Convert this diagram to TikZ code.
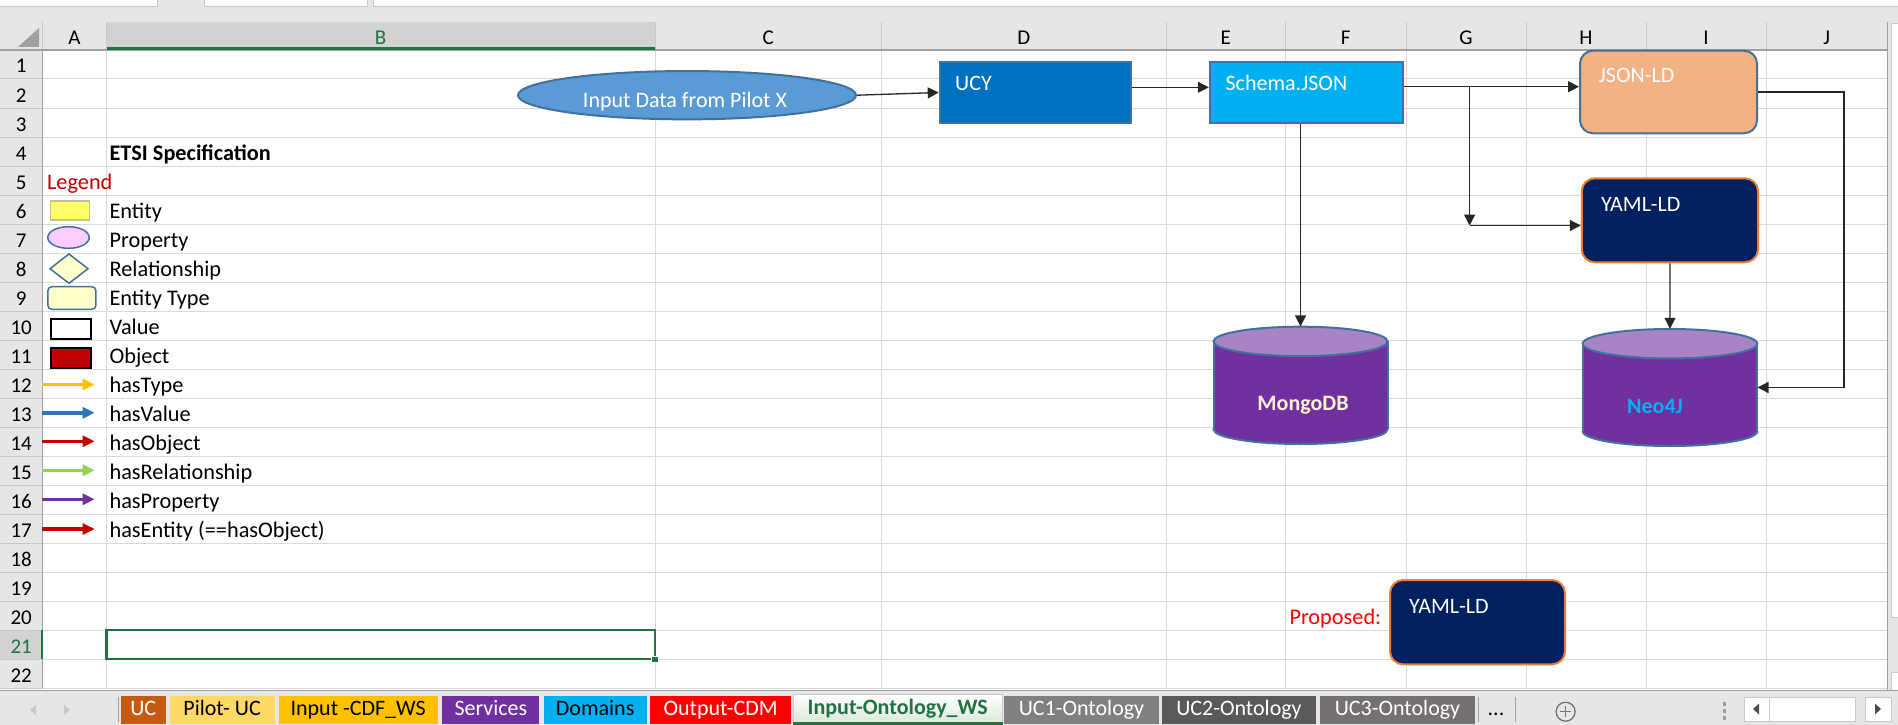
\documentclass[tikz,border=0pt]{standalone}
\usepackage{fontspec}
\setmainfont{Carlito}
\usetikzlibrary{arrows.meta,shapes.geometric,calc}
\definecolor{hdr}{HTML}{E6E6E6}
\definecolor{selhdr}{HTML}{D2D2D2}
\definecolor{gridc}{HTML}{D9D9D9}
\definecolor{hsep}{HTML}{C8C8C8}
\definecolor{hline}{HTML}{A0A0A0}
\definecolor{xlgreen}{HTML}{217346}
\definecolor{bordblue}{HTML}{41719C}
\definecolor{ellblue}{HTML}{5B9BD5}
\definecolor{ucyblue}{HTML}{0070C0}
\definecolor{schblue}{HTML}{00B0F0}
\definecolor{jsonor}{HTML}{F4B183}
\definecolor{navy}{HTML}{002060}
\definecolor{orb}{HTML}{ED7D31}
\definecolor{cylbody}{HTML}{7030A0}
\definecolor{cyltop}{HTML}{A884C4}
\definecolor{mongotxt}{HTML}{FFF2CC}
\definecolor{darkred}{HTML}{C00000}
\definecolor{entyel}{HTML}{FFFF66}
\definecolor{entbord}{HTML}{BFBFA0}
\definecolor{propink}{HTML}{FFCCFF}
\definecolor{palecream}{HTML}{FFFFCC}
\definecolor{typeor}{HTML}{FFC000}
\definecolor{valblue}{HTML}{2E75B6}
\definecolor{relgreen}{HTML}{92D050}
\definecolor{tabUC}{HTML}{C55A11}
\definecolor{tabPilot}{HTML}{FFD966}
\definecolor{tabUCone}{HTML}{808080}
\definecolor{tabUCtwo}{HTML}{595959}
\definecolor{tabUCthree}{HTML}{767171}
\definecolor{acttab}{HTML}{D9E7D6}
\newcommand\drawdbcyl[5]{%
  \filldraw[fill=cylbody, draw=bordblue, line width=2pt] (#1,#3) ellipse [x radius=#4, y radius=#5];
  \fill[cylbody] ({#1-#4},#2) rectangle ({#1+#4},#3);
  \draw[bordblue, line width=2pt] ({#1-#4},#2) -- ({#1-#4},#3) ({#1+#4},#2) -- ({#1+#4},#3);
  \filldraw[fill=cyltop, draw=bordblue, line width=2pt] (#1,#2) ellipse [x radius=#4, y radius=#5];
}
\begin{document}
\begin{tikzpicture}[x=1pt,y=-1pt,
  celltext/.style={font=\fontsize{22.3}{26}\selectfont, anchor=base west, inner sep=0},
  hdrtext/.style={font=\fontsize{21}{25}\selectfont, anchor=base, inner sep=0},
  stext/.style={font=\fontsize{22}{26}\selectfont, text=white, anchor=base west, inner sep=0},
  gridl/.style={draw=gridc, line width=1pt},
  hsepl/.style={draw=hsep, line width=1pt},
  conn/.style={draw=black!85, line width=1.3pt, -{Triangle[length=11pt,width=11pt]}},
  legarrow/.style={line width=3.6pt, -{Triangle[length=12pt,width=11pt]}},
  tab/.style={inner sep=0, minimum height=27.5pt, text height=14.5pt, text depth=4pt,
              font=\fontsize{22}{26}\selectfont},
  boxn/.style={inner sep=0, line width=2pt}
]
\useasboundingbox (0,0) rectangle (1898,725);
\fill[white] (0,0) rectangle (1898,725);
% ---------- top band and column header ----------
\fill[hdr] (0,0) rectangle (1898,50);
\filldraw[fill=white, draw=hsep] (-2,-2) rectangle (157,6);
\filldraw[fill=white, draw=hsep] (204.5,-2) rectangle (367,6);
\filldraw[fill=white, draw=hsep] (373,-2) rectangle (1900,6);
\fill[selhdr] (106.5,22) rectangle (655,50);
\foreach \x in {42.4,106.5,655,881.5,1166,1285.7,1406,1526,1646,1766.5,1887}
  \draw[hsepl] (\x,22) -- (\x,50);
\fill[hsep!80!black] (18,47) -- (39,47) -- (39,28) -- cycle;
\foreach \x/\l in {74.5/A,768.2/C,1023.7/D,1225.8/E,1345.8/F,1466/G,1586/H,1706/I,1826.7/J}
  \node[hdrtext] at (\x,45) {\l};
\node[hdrtext, text=xlgreen] at (380.7,45) {B};
% ---------- row header ----------
\fill[hdr] (0,50) rectangle (42.4,688);
\fill[selhdr] (0,630) rectangle (42.4,659);
% ---------- grid ----------
\foreach \x in {106.5,655,881.5,1166,1285.7,1406,1526,1646,1766.5,1887}
  \draw[gridl] (\x,50) -- (\x,688);
\foreach \n in {1,...,22} {
  \draw[gridl] (42.4,{50+29*\n}) -- (1887,{50+29*\n});
  \draw[hsepl] (0,{50+29*\n}) -- (42.4,{50+29*\n});
}
\foreach \n in {1,...,20,22}
  \node[hdrtext] at (21.2,{50+29*\n-6}) {\n};
\node[hdrtext, text=xlgreen] at (21.2,653) {21};
\draw[hline, line width=1.2pt] (0,50) -- (1887,50);
\draw[hline, line width=1.2pt] (42.4,50) -- (42.4,688);
\draw[xlgreen, line width=3pt] (106.5,48.5) -- (655,48.5);
\draw[xlgreen, line width=2pt] (42.4,630) -- (42.4,659);
% selected cell B21
\draw[xlgreen, line width=2.5pt] (106.5,630) rectangle (655,659);
\filldraw[fill=xlgreen, draw=white, line width=0.8pt] (651.5,656) rectangle (658,662);
% right scroll strip
\fill[hdr] (1887,22) rectangle (1898,690);
\draw[hline] (1887.5,22) -- (1887.5,690);
\filldraw[fill=white, draw=hsep] (1891.5,23) rectangle (1899,617);
\filldraw[fill=white, draw=hsep] (1891.5,672) rectangle (1899,690);
% ---------- legend ----------
\node[celltext, font=\bfseries\fontsize{22.3}{26}\selectfont] at (109.4,160) {ETSI Specification};
\node[celltext, text=darkred] at (46.9,189) {Legend};
\node[celltext] (tent) at (109.4,218) {Entity};
\node[celltext] (tprop) at (109.4,247) {Property};
\node[celltext] (trel) at (109.4,276) {Relationship};
\node[celltext] (ttype) at (109.4,305) {Entity Type};
\node[celltext] (tval) at (109.4,334) {Value};
\node[celltext] (tobj) at (109.4,363) {Object};
\node[celltext] (thtype) at (109.4,392) {hasType};
\node[celltext] (thval) at (109.4,421) {hasValue};
\node[celltext] (thobj) at (109.4,450) {hasObject};
\node[celltext] (threl) at (109.4,479) {hasRelationship};
\node[celltext] (thprop) at (109.4,508) {hasProperty};
\node[celltext] (thent) at (109.4,537) {hasEntity (==hasObject)};
\node[boxn, draw=entbord, line width=1.5pt, fill=entyel, minimum width=39pt, minimum height=19.3pt] (lent) at (69.9,210.4) {};
\node[boxn, ellipse, draw=bordblue, line width=1.5pt, fill=propink, minimum width=41.5pt, minimum height=21.6pt] (lprop) at (68.5,237.5) {};
\filldraw[fill=palecream, draw=bordblue, line width=1.5pt] (50,268.7) -- (69,254) -- (88,268.7) -- (69,283.3) -- cycle;
\node[boxn, draw=bordblue, line width=1.5pt, fill=palecream, rounded corners=4pt, minimum width=48pt, minimum height=22.6pt] (ltype) at (71.9,298) {};
\node[boxn, draw=black, fill=white, minimum width=39.3pt, minimum height=20pt] (lval) at (71,329.3) {};
\node[boxn, draw=black, fill=darkred, minimum width=39.3pt, minimum height=20pt] (lobj) at (71,358.3) {};
\coordinate (a1) at (42.4,384.5); \coordinate (b1) at (94.6,384.5);
\coordinate (a2) at (42.4,412.8); \coordinate (b2) at (94.6,412.8);
\coordinate (a3) at (42.4,441.3); \coordinate (b3) at (94.6,441.3);
\coordinate (a4) at (42.4,470.3); \coordinate (b4) at (94.6,470.3);
\coordinate (a5) at (42.4,499.3); \coordinate (b5) at (94.6,499.3);
\coordinate (a6) at (42.4,529);   \coordinate (b6) at (94.6,529);
\draw[legarrow, typeor] (a1) -- (b1);
\draw[legarrow, valblue] (a2) -- (b2);
\draw[legarrow, darkred] (a3) -- (b3);
\draw[legarrow, relgreen] (a4) -- (b4);
\draw[legarrow, cylbody] (a5) -- (b5);
\draw[legarrow, darkred] (a6) -- (b6);
% ---------- diagram ----------
\node[boxn, ellipse, fill=ellblue, draw=bordblue, minimum width=338pt, minimum height=48.3pt] (inp) at (687,95.2) {};
\node[stext, anchor=base] at (685,107.3) {Input Data from Pilot X};
\node[boxn, fill=ucyblue, draw=bordblue, minimum width=191.6pt, minimum height=61.6pt] (ucy) at (1035.5,92.5) {};
\node[stext] at (955,90) {UCY};
\node[boxn, fill=schblue, draw=bordblue, minimum width=193.2pt, minimum height=61.6pt] (schema) at (1306.4,92.5) {};
\node[stext] at (1225.4,90) {Schema.JSON};
\node[boxn, fill=jsonor, draw=bordblue, rounded corners=13pt, minimum width=177pt, minimum height=82.6pt] (jsonld) at (1668.5,92) {};
\node[stext] at (1598.7,82) {JSON-LD};
\node[boxn, fill=navy, draw=orb, rounded corners=13pt, minimum width=176.3pt, minimum height=84pt] (yaml) at (1669.9,220.3) {};
\node[stext] at (1600.9,211) {YAML-LD};
\drawdbcyl{1300.5}{341.4}{429.3}{87}{14.7}
\node[inner sep=0, minimum width=174pt, minimum height=117.3pt] (mongo) at (1300.5,385.3) {};
\node[stext, anchor=base, text=mongotxt, font=\bfseries\fontsize{22}{26}\selectfont] at (1303,410.7) {MongoDB};
\drawdbcyl{1670}{343.7}{431.3}{87.3}{14.7}
\node[inner sep=0, minimum width=174.6pt, minimum height=117pt] (neo) at (1670,387.5) {};
\node[stext, anchor=base, text=schblue, font=\bfseries\fontsize{22}{26}\selectfont] at (1655,413.3) {Neo4J};
\node[celltext, text=red] (proplab) at (1289.3,624) {Proposed:};
\node[boxn, fill=navy, draw=orb, rounded corners=13pt, minimum width=175pt, minimum height=84.3pt] (pyaml) at (1477.5,622.2) {};
\node[stext] at (1409,613.3) {YAML-LD};
% connectors
\draw[conn] (inp.east) -- (ucy.west);
\draw[conn] ([yshift=5.2pt]ucy.east) -- ([yshift=5.2pt]ucy.east -| schema.west);
\draw[conn] ([yshift=5.8pt]schema.east) -- ([yshift=5.8pt]schema.east -| jsonld.west);
\coordinate (br) at (1469.6,86.7);
\coordinate (brc) at (1469.6,225.5);
\draw[conn] (br) -- (brc);
\draw[conn] (brc) -- (brc -| yaml.west);
\draw[conn] (mongo.north |- schema.south) -- (mongo.north);
\draw[conn] (yaml.south) -- (neo.north);
\draw[conn] (jsonld.east) -- ++(86,0) |- (neo.east);
% ---------- sheet tab bar ----------
\fill[hdr] (0,690) rectangle (1898,725);
\draw[hsep!80!black] (0,690.5) -- (1898,690.5);
\fill[hsep] (36,705) -- (30,710) -- (36,715) -- cycle;
\fill[hsep] (64,705) -- (70,710) -- (64,715) -- cycle;
\draw[hline] (118,697) -- (118,722);
\node[tab, fill=tabUC, text=white, minimum width=44.5pt] (t1) at (143.25,709.75) {UC};
\node[tab, fill=tabPilot, minimum width=104.8pt] (t2) at (222.1,709.75) {Pilot- UC};
\node[tab, fill=typeor, minimum width=158.8pt] (t3) at (358.2,709.75) {Input -CDF\_WS};
\node[tab, fill=cylbody, text=white, minimum width=97pt] (t4) at (490.9,709.75) {Services};
\node[tab, fill=schblue, minimum width=103.1pt] (t5) at (595.15,709.75) {Domains};
\node[tab, fill=red, text=white, minimum width=140.7pt] (t6) at (720.65,709.75) {Output-CDM};
\node[tab, top color=white, bottom color=acttab, draw=hsep, text=xlgreen, font=\bfseries\fontsize{22}{26}\selectfont, minimum width=209.5pt, minimum height=29pt] (t7) at (897.75,709) {Input-Ontology\_WS};
\draw[xlgreen, line width=2.5pt] (t7.south west) -- (t7.south east);
\node[tab, fill=tabUCone, text=white, minimum width=155pt] (t8) at (1081.5,709.75) {UC1-Ontology};
\node[tab, fill=tabUCtwo, text=white, minimum width=154pt] (t9) at (1239,709.75) {UC2-Ontology};
\node[tab, fill=tabUCthree, text=white, minimum width=155pt] (t10) at (1397.5,709.75) {UC3-Ontology};
\draw[hline] (1478,697) -- (1478,722);
\node[tab] (tdots) at (1496,709.75) {...};
\draw[hline] (1515,697) -- (1515,722);
\node[circle, draw=black!55, line width=1.3pt, minimum size=19pt, inner sep=0] (tplus) at (1565.6,711.7) {};
\draw[black!55, line width=1.3pt] ([xshift=-5.5pt]tplus.center) -- ([xshift=5.5pt]tplus.center)
  ([yshift=-5.5pt]tplus.center) -- ([yshift=5.5pt]tplus.center);
\foreach \yy in {702,709,716} \fill[hline] (1722.5,\yy) rectangle (1725.5,{\yy+3.5});
\filldraw[fill=white, draw=hsep] (1744,697) rectangle (1769,720.7);
\filldraw[fill=white, draw=hsep] (1769,697) rectangle (1855,720.7);
\filldraw[fill=white, draw=hsep] (1865.6,697) rectangle (1891,720.7);
\fill[black!70] (1759,703.5) -- (1753,709) -- (1759,714.5) -- cycle;
\fill[black!70] (1875,703.5) -- (1881,709) -- (1875,714.5) -- cycle;
\end{tikzpicture}
\end{document}
